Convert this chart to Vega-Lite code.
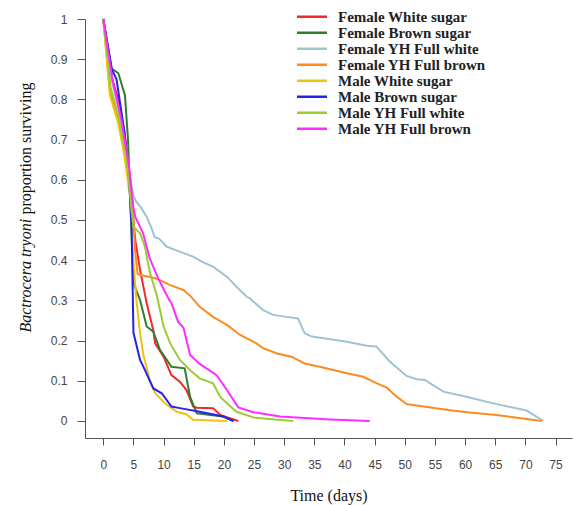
{
  "$schema": "https://vega.github.io/schema/vega-lite/v6.json",
  "width": 487,
  "height": 419,
  "autosize": {"type": "none"},
  "padding": {"left": 85, "top": 19, "right": 1, "bottom": 67},
  "background": "white",
  "config": {"view": {"stroke": null}, "axis": {"grid": false}},
  "datasets": {
    "s": [
      {"g": "Female White sugar", "d": 0, "p": 1.0},
      {"g": "Female White sugar", "d": 1.5, "p": 0.85},
      {"g": "Female White sugar", "d": 2.5, "p": 0.8},
      {"g": "Female White sugar", "d": 3.5, "p": 0.72},
      {"g": "Female White sugar", "d": 4.5, "p": 0.6},
      {"g": "Female White sugar", "d": 5.0, "p": 0.5},
      {"g": "Female White sugar", "d": 5.3, "p": 0.45},
      {"g": "Female White sugar", "d": 6.1, "p": 0.376},
      {"g": "Female White sugar", "d": 7.2, "p": 0.293},
      {"g": "Female White sugar", "d": 8.3, "p": 0.226},
      {"g": "Female White sugar", "d": 8.6, "p": 0.193},
      {"g": "Female White sugar", "d": 10.0, "p": 0.16},
      {"g": "Female White sugar", "d": 11.3, "p": 0.114},
      {"g": "Female White sugar", "d": 12.7, "p": 0.098},
      {"g": "Female White sugar", "d": 13.8, "p": 0.077},
      {"g": "Female White sugar", "d": 14.9, "p": 0.036},
      {"g": "Female White sugar", "d": 15.5, "p": 0.033},
      {"g": "Female White sugar", "d": 18.2, "p": 0.032},
      {"g": "Female White sugar", "d": 19.4, "p": 0.015},
      {"g": "Female White sugar", "d": 21.0, "p": 0.007},
      {"g": "Female White sugar", "d": 22.4, "p": 0.0},

      {"g": "Female Brown sugar", "d": 0, "p": 1.0},
      {"g": "Female Brown sugar", "d": 1.4, "p": 0.877},
      {"g": "Female Brown sugar", "d": 2.5, "p": 0.865},
      {"g": "Female Brown sugar", "d": 3.6, "p": 0.81},
      {"g": "Female Brown sugar", "d": 4.1, "p": 0.7},
      {"g": "Female Brown sugar", "d": 4.6, "p": 0.5},
      {"g": "Female Brown sugar", "d": 5.0, "p": 0.343},
      {"g": "Female Brown sugar", "d": 6.1, "p": 0.301},
      {"g": "Female Brown sugar", "d": 7.2, "p": 0.235},
      {"g": "Female Brown sugar", "d": 8.3, "p": 0.222},
      {"g": "Female Brown sugar", "d": 9.4, "p": 0.177},
      {"g": "Female Brown sugar", "d": 11.3, "p": 0.135},
      {"g": "Female Brown sugar", "d": 13.5, "p": 0.131},
      {"g": "Female Brown sugar", "d": 14.4, "p": 0.06},
      {"g": "Female Brown sugar", "d": 15.5, "p": 0.019},
      {"g": "Female Brown sugar", "d": 19.9, "p": 0.011},
      {"g": "Female Brown sugar", "d": 21.6, "p": 0.0},

      {"g": "Female YH Full white", "d": 0, "p": 1.0},
      {"g": "Female YH Full white", "d": 1.2, "p": 0.86},
      {"g": "Female YH Full white", "d": 2.5, "p": 0.78},
      {"g": "Female YH Full white", "d": 3.5, "p": 0.7},
      {"g": "Female YH Full white", "d": 4.5, "p": 0.6},
      {"g": "Female YH Full white", "d": 5.0, "p": 0.56},
      {"g": "Female YH Full white", "d": 5.5, "p": 0.545},
      {"g": "Female YH Full white", "d": 6.3, "p": 0.53},
      {"g": "Female YH Full white", "d": 7.3, "p": 0.505},
      {"g": "Female YH Full white", "d": 8.0, "p": 0.48},
      {"g": "Female YH Full white", "d": 8.5, "p": 0.458},
      {"g": "Female YH Full white", "d": 9.3, "p": 0.453},
      {"g": "Female YH Full white", "d": 10.5, "p": 0.434},
      {"g": "Female YH Full white", "d": 12.0, "p": 0.425},
      {"g": "Female YH Full white", "d": 14.9, "p": 0.409},
      {"g": "Female YH Full white", "d": 16.5, "p": 0.395},
      {"g": "Female YH Full white", "d": 18.2, "p": 0.384},
      {"g": "Female YH Full white", "d": 20.5, "p": 0.359},
      {"g": "Female YH Full white", "d": 22.1, "p": 0.334},
      {"g": "Female YH Full white", "d": 23.8, "p": 0.309},
      {"g": "Female YH Full white", "d": 24.3, "p": 0.305},
      {"g": "Female YH Full white", "d": 26.5, "p": 0.276},
      {"g": "Female YH Full white", "d": 28.2, "p": 0.264},
      {"g": "Female YH Full white", "d": 30.4, "p": 0.259},
      {"g": "Female YH Full white", "d": 32.3, "p": 0.255},
      {"g": "Female YH Full white", "d": 33.4, "p": 0.218},
      {"g": "Female YH Full white", "d": 34.6, "p": 0.21},
      {"g": "Female YH Full white", "d": 40.4, "p": 0.197},
      {"g": "Female YH Full white", "d": 43.7, "p": 0.187},
      {"g": "Female YH Full white", "d": 45.3, "p": 0.185},
      {"g": "Female YH Full white", "d": 47.5, "p": 0.148},
      {"g": "Female YH Full white", "d": 50.3, "p": 0.112},
      {"g": "Female YH Full white", "d": 52.0, "p": 0.104},
      {"g": "Female YH Full white", "d": 53.3, "p": 0.102},
      {"g": "Female YH Full white", "d": 56.4, "p": 0.073},
      {"g": "Female YH Full white", "d": 59.7, "p": 0.062},
      {"g": "Female YH Full white", "d": 65.2, "p": 0.042},
      {"g": "Female YH Full white", "d": 70.2, "p": 0.026},
      {"g": "Female YH Full white", "d": 73.0, "p": 0.0},

      {"g": "Female YH Full brown", "d": 0, "p": 1.0},
      {"g": "Female YH Full brown", "d": 1.1, "p": 0.82},
      {"g": "Female YH Full brown", "d": 2.5, "p": 0.75},
      {"g": "Female YH Full brown", "d": 3.8, "p": 0.66},
      {"g": "Female YH Full brown", "d": 4.8, "p": 0.55},
      {"g": "Female YH Full brown", "d": 5.3, "p": 0.42},
      {"g": "Female YH Full brown", "d": 5.7, "p": 0.365},
      {"g": "Female YH Full brown", "d": 8.6, "p": 0.355},
      {"g": "Female YH Full brown", "d": 9.5, "p": 0.35},
      {"g": "Female YH Full brown", "d": 11.1, "p": 0.338},
      {"g": "Female YH Full brown", "d": 13.3, "p": 0.326},
      {"g": "Female YH Full brown", "d": 14.5, "p": 0.31},
      {"g": "Female YH Full brown", "d": 16.0, "p": 0.284},
      {"g": "Female YH Full brown", "d": 18.2, "p": 0.259},
      {"g": "Female YH Full brown", "d": 20.5, "p": 0.239},
      {"g": "Female YH Full brown", "d": 22.7, "p": 0.214},
      {"g": "Female YH Full brown", "d": 25.4, "p": 0.193},
      {"g": "Female YH Full brown", "d": 26.5, "p": 0.181},
      {"g": "Female YH Full brown", "d": 28.8, "p": 0.168},
      {"g": "Female YH Full brown", "d": 31.2, "p": 0.16},
      {"g": "Female YH Full brown", "d": 33.4, "p": 0.143},
      {"g": "Female YH Full brown", "d": 35.9, "p": 0.135},
      {"g": "Female YH Full brown", "d": 40.4, "p": 0.119},
      {"g": "Female YH Full brown", "d": 43.1, "p": 0.11},
      {"g": "Female YH Full brown", "d": 45.3, "p": 0.094},
      {"g": "Female YH Full brown", "d": 47.0, "p": 0.083},
      {"g": "Female YH Full brown", "d": 48.7, "p": 0.06},
      {"g": "Female YH Full brown", "d": 50.3, "p": 0.042},
      {"g": "Female YH Full brown", "d": 53.1, "p": 0.036},
      {"g": "Female YH Full brown", "d": 57.5, "p": 0.027},
      {"g": "Female YH Full brown", "d": 60.8, "p": 0.021},
      {"g": "Female YH Full brown", "d": 65.2, "p": 0.015},
      {"g": "Female YH Full brown", "d": 68.6, "p": 0.008},
      {"g": "Female YH Full brown", "d": 72.7, "p": 0.0},

      {"g": "Male White sugar", "d": 0, "p": 1.0},
      {"g": "Male White sugar", "d": 1.1, "p": 0.81},
      {"g": "Male White sugar", "d": 2.5, "p": 0.74},
      {"g": "Male White sugar", "d": 3.5, "p": 0.66},
      {"g": "Male White sugar", "d": 4.5, "p": 0.55},
      {"g": "Male White sugar", "d": 4.9, "p": 0.42},
      {"g": "Male White sugar", "d": 5.5, "p": 0.3},
      {"g": "Male White sugar", "d": 6.1, "p": 0.22},
      {"g": "Male White sugar", "d": 6.6, "p": 0.168},
      {"g": "Male White sugar", "d": 7.7, "p": 0.102},
      {"g": "Male White sugar", "d": 8.6, "p": 0.069},
      {"g": "Male White sugar", "d": 10.2, "p": 0.044},
      {"g": "Male White sugar", "d": 12.2, "p": 0.023},
      {"g": "Male White sugar", "d": 13.8, "p": 0.017},
      {"g": "Male White sugar", "d": 14.9, "p": 0.003},
      {"g": "Male White sugar", "d": 20.5, "p": 0.0},

      {"g": "Male Brown sugar", "d": 0, "p": 1.0},
      {"g": "Male Brown sugar", "d": 1.4, "p": 0.875},
      {"g": "Male Brown sugar", "d": 2.2, "p": 0.85},
      {"g": "Male Brown sugar", "d": 3.5, "p": 0.72},
      {"g": "Male Brown sugar", "d": 4.3, "p": 0.6},
      {"g": "Male Brown sugar", "d": 4.7, "p": 0.48},
      {"g": "Male Brown sugar", "d": 5.0, "p": 0.22},
      {"g": "Male Brown sugar", "d": 6.1, "p": 0.152},
      {"g": "Male Brown sugar", "d": 6.9, "p": 0.127},
      {"g": "Male Brown sugar", "d": 8.3, "p": 0.081},
      {"g": "Male Brown sugar", "d": 9.7, "p": 0.069},
      {"g": "Male Brown sugar", "d": 11.3, "p": 0.036},
      {"g": "Male Brown sugar", "d": 12.7, "p": 0.032},
      {"g": "Male Brown sugar", "d": 16.0, "p": 0.023},
      {"g": "Male Brown sugar", "d": 19.9, "p": 0.011},
      {"g": "Male Brown sugar", "d": 21.6, "p": 0.0},

      {"g": "Male YH Full white", "d": 0, "p": 1.0},
      {"g": "Male YH Full white", "d": 1.2, "p": 0.83},
      {"g": "Male YH Full white", "d": 2.5, "p": 0.76},
      {"g": "Male YH Full white", "d": 4.0, "p": 0.64},
      {"g": "Male YH Full white", "d": 4.7, "p": 0.52},
      {"g": "Male YH Full white", "d": 5.0, "p": 0.483},
      {"g": "Male YH Full white", "d": 6.1, "p": 0.467},
      {"g": "Male YH Full white", "d": 6.9, "p": 0.434},
      {"g": "Male YH Full white", "d": 7.7, "p": 0.371},
      {"g": "Male YH Full white", "d": 8.9, "p": 0.311},
      {"g": "Male YH Full white", "d": 10.0, "p": 0.235},
      {"g": "Male YH Full white", "d": 11.1, "p": 0.193},
      {"g": "Male YH Full white", "d": 12.7, "p": 0.152},
      {"g": "Male YH Full white", "d": 14.5, "p": 0.125},
      {"g": "Male YH Full white", "d": 16.0, "p": 0.106},
      {"g": "Male YH Full white", "d": 18.2, "p": 0.094},
      {"g": "Male YH Full white", "d": 19.4, "p": 0.06},
      {"g": "Male YH Full white", "d": 20.5, "p": 0.044},
      {"g": "Male YH Full white", "d": 22.1, "p": 0.023},
      {"g": "Male YH Full white", "d": 24.9, "p": 0.009},
      {"g": "Male YH Full white", "d": 27.5, "p": 0.005},
      {"g": "Male YH Full white", "d": 31.5, "p": 0.0},

      {"g": "Male YH Full brown", "d": 0, "p": 1.0},
      {"g": "Male YH Full brown", "d": 1.5, "p": 0.85},
      {"g": "Male YH Full brown", "d": 3.0, "p": 0.75},
      {"g": "Male YH Full brown", "d": 4.2, "p": 0.64},
      {"g": "Male YH Full brown", "d": 5.0, "p": 0.53},
      {"g": "Male YH Full brown", "d": 5.3, "p": 0.508},
      {"g": "Male YH Full brown", "d": 6.6, "p": 0.467},
      {"g": "Male YH Full brown", "d": 7.7, "p": 0.405},
      {"g": "Male YH Full brown", "d": 9.1, "p": 0.355},
      {"g": "Male YH Full brown", "d": 10.8, "p": 0.305},
      {"g": "Male YH Full brown", "d": 11.3, "p": 0.293},
      {"g": "Male YH Full brown", "d": 12.4, "p": 0.247},
      {"g": "Male YH Full brown", "d": 13.3, "p": 0.232},
      {"g": "Male YH Full brown", "d": 14.4, "p": 0.164},
      {"g": "Male YH Full brown", "d": 16.0, "p": 0.142},
      {"g": "Male YH Full brown", "d": 18.8, "p": 0.114},
      {"g": "Male YH Full brown", "d": 20.5, "p": 0.077},
      {"g": "Male YH Full brown", "d": 22.4, "p": 0.034},
      {"g": "Male YH Full brown", "d": 24.9, "p": 0.022},
      {"g": "Male YH Full brown", "d": 29.3, "p": 0.011},
      {"g": "Male YH Full brown", "d": 37.6, "p": 0.004},
      {"g": "Male YH Full brown", "d": 44.2, "p": 0.0}
    ]
  },
  "data": {"name": "s"},
  "encoding": {
    "x": {
      "field": "d", "type": "quantitative",
      "scale": {"domain": [-3.03, 77.73], "nice": false, "zero": false},
      "axis": {
        "values": [0, 5, 10, 15, 20, 25, 30, 35, 40, 45, 50, 55, 60, 65, 70, 75],
        "title": "Time (days)",
        "titleFont": "Liberation Serif", "titleFontSize": 16, "titleFontWeight": "normal", "titleColor": "#111",
        "titleY": 57, "titleBaseline": "middle",
        "labelFont": "Liberation Sans", "labelFontSize": 12, "labelColor": "#444",
        "labelFlush": false, "labelOverlap": false,
        "tickSize": 7, "labelPadding": 14,
        "domainColor": "#555", "tickColor": "#555"
      }
    }
  },
  "layer": [
    {
      "mark": {"type": "line", "strokeWidth": 2},
      "encoding": {
        "y": {
          "field": "p", "type": "quantitative",
          "scale": {"domain": [-0.0423, 1], "nice": false, "zero": false},
          "axis": {
            "values": [0, 0.1, 0.2, 0.3, 0.4, 0.5, 0.6, 0.7, 0.8, 0.9, 1],
            "format": "~g",
            "title": "proportion surviving",
            "titleFont": "Liberation Serif", "titleFontSize": 16, "titleFontWeight": "normal", "titleColor": "#111",
            "titleAngle": 270, "titleAlign": "left", "titleBaseline": "middle",
            "titleX": -60, "titleY": 195,
            "labelFont": "Liberation Sans", "labelFontSize": 12, "labelColor": "#444",
            "labelFlush": false, "labelOverlap": false,
            "tickSize": 8, "labelPadding": 10,
            "domainColor": "#555", "tickColor": "#555"
          }
        },
        "color": {
          "field": "g", "type": "nominal",
          "scale": {
            "domain": ["Female White sugar", "Female Brown sugar", "Female YH Full white", "Female YH Full brown", "Male White sugar", "Male Brown sugar", "Male YH Full white", "Male YH Full brown"],
            "range": ["#f02a2a", "#2f7d2f", "#9fc3d3", "#ff8a1e", "#f4c20d", "#2323f0", "#9acd32", "#ff2cff"]
          },
          "legend": {
            "orient": "none", "legendX": 210.5, "legendY": -10.3,
            "title": null, "padding": 0,
            "symbolType": "stroke", "symbolSize": 900, "symbolStrokeWidth": 2.5,
            "clipHeight": 16, "rowPadding": 0, "labelOffset": 9.5,
            "labelFont": "Liberation Serif", "labelFontSize": 15, "labelFontWeight": "bold", "labelColor": "#222",
            "labelLimit": 300
          }
        }
      }
    },
    {
      "mark": {"type": "line", "strokeOpacity": 0},
      "encoding": {
        "y": {
          "field": "p", "type": "quantitative",
          "axis": {
            "orient": "left",
            "title": "Bactrocera tryoni",
            "titleFont": "Liberation Serif", "titleFontSize": 16, "titleFontWeight": "normal", "titleFontStyle": "italic", "titleColor": "#111",
            "titleAngle": 270, "titleAlign": "left", "titleBaseline": "middle",
            "titleX": -60, "titleY": 313,
            "domain": false, "ticks": false, "labels": false
          }
        },
        "detail": {"field": "g"}
      }
    }
  ],
  "resolve": {"axis": {"y": "independent"}}
}
